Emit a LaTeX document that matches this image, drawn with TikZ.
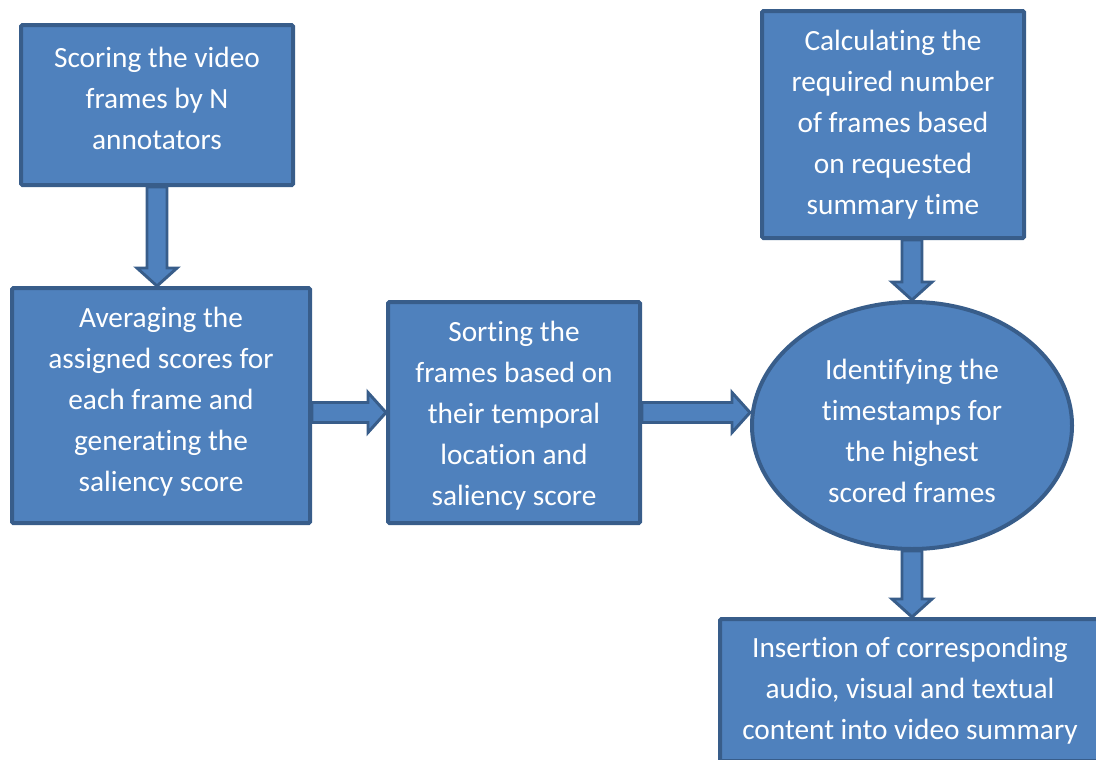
\documentclass[tikz,border=0pt]{standalone}
\usepackage{fontspec}
\setmainfont{Carlito}[Ligatures=NoCommon]
\usetikzlibrary{calc,shapes.geometric}
\definecolor{boxfill}{HTML}{4F81BD}
\definecolor{boxline}{HTML}{385D8A}
\tikzset{
  stepbox/.style={draw=boxline, fill=boxfill, line width=3pt, rounded corners=1pt,
    inner sep=0pt},
  stepoval/.style={stepbox, ellipse, rounded corners=0pt},
  steptext/.style={text=white, align=center, inner sep=0pt,
    font=\fontsize{22pt}{30.75pt}\selectfont},
  blockarrow/.style={draw=boxline, fill=boxfill, line width=2.2pt, line join=miter}
}
% fat arrow pointing down from #1 to #2
\newcommand\downblock[2]{%
  \draw[blockarrow] let \p1=(#1), \p2=(#2) in
    (\x1-7.5pt,\y1) -- (\x1-7.5pt,\y2+13.5pt) -- (\x1-15pt,\y2+13.5pt) -- (\x1,\y2)
    -- (\x1+15pt,\y2+13.5pt) -- (\x1+7.5pt,\y2+13.5pt) -- (\x1+7.5pt,\y1) -- cycle;}
% fat arrow pointing right from #1 to #2
\newcommand\rightblock[2]{%
  \draw[blockarrow] let \p1=(#1), \p2=(#2) in
    (\x1,\y1+7.5pt) -- (\x2-13.5pt,\y1+7.5pt) -- (\x2-13.5pt,\y1+15pt) -- (\x2,\y1)
    -- (\x2-13.5pt,\y1-15pt) -- (\x2-13.5pt,\y1-7.5pt) -- (\x1,\y1-7.5pt) -- cycle;}
\begin{document}
\begin{tikzpicture}[x=0.75pt, y=-0.75pt]
\useasboundingbox (0,0) rectangle (1096,760);
\clip (0,0) rectangle (1096,760);

% process shapes
\node[stepbox, minimum width=204pt, minimum height=120pt] (score) at (157,105) {};
\node[stepbox, minimum width=223.5pt, minimum height=176.25pt] (avg) at (161,405.5) {};
\node[stepbox, minimum width=189pt, minimum height=165.75pt] (sort) at (514,412.5) {};
\node[stepbox, minimum width=196.5pt, minimum height=170.25pt] (calc) at (893,124.5) {};
\node[stepoval, minimum width=240pt, minimum height=185.25pt] (ident) at (912,425.5) {};
\node[stepbox, minimum width=285pt, minimum height=106.5pt] (insert) at (910,690) {};

% captions
\node[steptext] (scoreT) at ($(score)+(0,-7)$)
  {Scoring the video\\frames by N\\annotators};
\node[steptext] (avgT) at ($(avg)+(0,-4)$)
  {Averaging the\\assigned scores for\\each frame and\\generating the\\saliency score};
\node[steptext] (sortT) at ($(sort)+(0,3)$)
  {Sorting the\\frames based on\\their temporal\\location and\\saliency score};
\node[steptext] (calcT) at (calc)
  {Calculating the\\required number\\of frames based\\on requested\\summary time};
\node[steptext] (identT) at ($(ident)+(0,5)$)
  {Identifying the\\timestamps for\\the highest\\scored frames};
\node[steptext] (insertT) at ($(insert)+(0,1)$)
  {Insertion of corresponding\\audio, visual and textual\\content into video summary};

% flow arrows
\downblock{score.south}{score.south |- avg.north}
\rightblock{avg.east |- sort.west}{sort.west}
\rightblock{sort.east}{sort.east -| ident.west}
\downblock{ident.north |- calc.south}{ident.north}
\downblock{ident.south}{ident.south |- insert.north}
\end{tikzpicture}
\end{document}
